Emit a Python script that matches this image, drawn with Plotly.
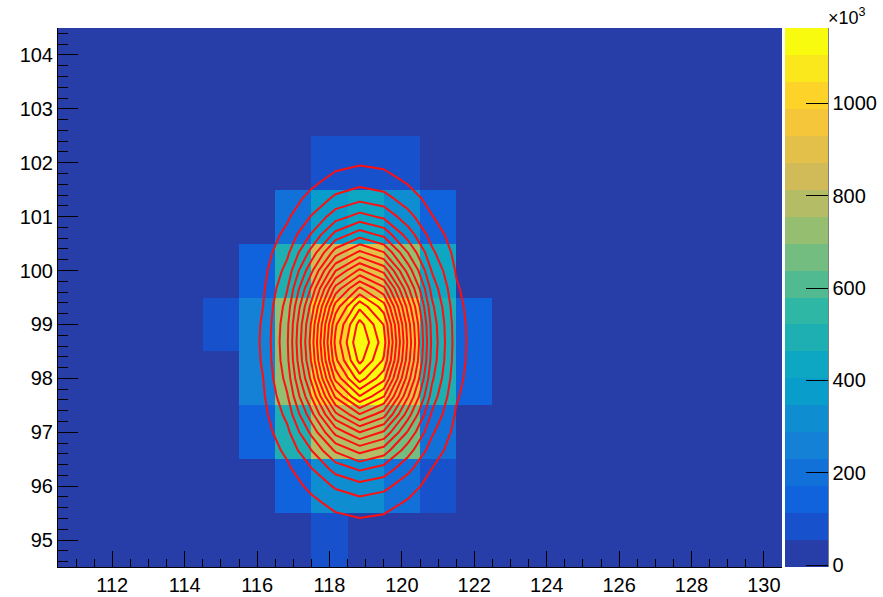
import numpy as np
import plotly.graph_objects as go

# ---------------- data ----------------
x_centers = list(range(111, 131))          # bin centres, width 1
y_centers = list(range(95, 105))           # bin centres, width 1
x_ticks = [112, 114, 116, 118, 120, 122, 124, 126, 128, 130]
y_ticks = [95, 96, 97, 98, 99, 100, 101, 102, 103, 104]
cbar_ticks = [0, 200, 400, 600, 800, 1000]  # in units of 10^3

# bin contents in units of 10^3 (rows = y 95..104, cols = x 111..130)
counts_k = [
    [0, 0, 0, 0, 0,   0,   0,   90,   0,    0,   0,   0,   0, 0, 0, 0, 0, 0, 0, 0],  # 95
    [0, 0, 0, 0, 0,   0,   130, 300,  320,  210, 100, 0,   0, 0, 0, 0, 0, 0, 0, 0],  # 96
    [0, 0, 0, 0, 0,   170, 480, 760,  790,  640, 200, 0,   0, 0, 0, 0, 0, 0, 0, 0],  # 97
    [0, 0, 0, 0, 0,   260, 720, 1000, 1150, 900, 470, 140, 0, 0, 0, 0, 0, 0, 0, 0],  # 98
    [0, 0, 0, 0, 110, 230, 740, 1020, 1160, 940, 470, 140, 0, 0, 0, 0, 0, 0, 0, 0],  # 99
    [0, 0, 0, 0, 0,   170, 490, 850,  880,  720, 430, 0,   0, 0, 0, 0, 0, 0, 0, 0],  # 100
    [0, 0, 0, 0, 0,   0,   200, 380,  430,  320, 145, 0,   0, 0, 0, 0, 0, 0, 0, 0],  # 101
    [0, 0, 0, 0, 0,   0,   0,   90,   95,   85,  0,   0,   0, 0, 0, 0, 0, 0, 0, 0],  # 102
    [0] * 20,                                                                          # 103
    [0] * 20,                                                                          # 104
]
z_min_k = -4
z_max_k = 1163

# fitted 2D Gaussian overlay (parameters of the drawn function)
fit_amp = 1163.0
fit_x0 = 118.9
fit_y0 = 98.68
fit_sx = 1.14
fit_sy = 1.33
fit_npx = 30
fit_npy = 30
n_levels = 20

# ---------------- ROOT kBird palette ----------------
stops = [0.0, 0.125, 0.25, 0.375, 0.5, 0.625, 0.75, 0.875, 1.0]
red = [0.2082, 0.0592, 0.0780, 0.0232, 0.1802, 0.5301, 0.8186, 0.9956, 0.9764]
green = [0.1664, 0.3599, 0.5041, 0.6419, 0.7178, 0.7492, 0.7328, 0.7862, 0.9832]
blue = [0.5293, 0.8684, 0.8385, 0.7914, 0.6425, 0.4662, 0.3499, 0.1968, 0.0539]


def bird(p):
    r = np.interp(p, stops, red)
    g = np.interp(p, stops, green)
    b = np.interp(p, stops, blue)
    return "rgb(%d,%d,%d)" % (round(r * 255), round(g * 255), round(b * 255))


band_cols = []
for i in range(n_levels):
    idx = min(int((i + 0.99) * 255 / n_levels), 254)
    band_cols.append(bird(idx / 254))
cscale = []
for i, c in enumerate(band_cols):
    cscale.append([i / n_levels, c])
    cscale.append([(i + 1) / n_levels, c])

# ---------------- function grid ----------------
x_lo, x_hi = x_centers[0] - 0.5, x_centers[-1] + 0.5
y_lo, y_hi = y_centers[0] - 0.5, y_centers[-1] + 0.5
fx = x_lo + (np.arange(fit_npx) + 0.5) * (x_hi - x_lo) / fit_npx
fy = y_lo + (np.arange(fit_npy) + 0.5) * (y_hi - y_lo) / fit_npy
FX, FY = np.meshgrid(fx, fy)
FZ = fit_amp * np.exp(-0.5 * ((FX - fit_x0) / fit_sx) ** 2 - 0.5 * ((FY - fit_y0) / fit_sy) ** 2)
fz_min, fz_max = FZ.min(), FZ.max()
dz = (fz_max - fz_min) / n_levels

font = "Liberation Sans, Arial, Helvetica, sans-serif"
PL, PR, PT, PB = 58, 782, 28, 567
PW, PH = PR - PL, PB - PT

fig = go.Figure()
fig.add_trace(go.Heatmap(
    x=x_centers, y=y_centers, z=counts_k,
    zmin=z_min_k, zmax=z_max_k, colorscale=cscale,
    hoverinfo="skip",
    colorbar=dict(
        x=(785 - PL) / PW, xanchor="left", xpad=0,
        y=0.5, yanchor="middle", ypad=0, len=1, lenmode="fraction",
        thickness=43, thicknessmode="pixels",
        outlinewidth=0,
        tickvals=cbar_ticks, ticktext=[str(t) for t in cbar_ticks],
        ticks="inside", ticklen=22, tickcolor="black", tickwidth=1,
        tickfont=dict(family=font, size=20, color="black"),
    ),
))
fig.add_trace(go.Contour(
    x=fx, y=fy, z=FZ,
    autocontour=False,
    contours=dict(start=fz_min + dz, end=fz_min + dz * (n_levels - 1) + dz * 0.01,
                  size=dz, coloring="none"),
    line=dict(color="rgb(255,15,15)", width=2, smoothing=0),
    showscale=False, hoverinfo="skip",
))

fig.update_layout(
    width=883, height=597,
    margin=dict(l=PL, r=883 - PR, t=PT, b=597 - PB, autoexpand=False),
    paper_bgcolor="white",
    plot_bgcolor=band_cols[0],
    showlegend=False,
    font=dict(family=font, size=20, color="black"),
    xaxis=dict(range=[x_lo, x_hi], tickvals=x_ticks, ticks="inside", ticklen=16,
               tickcolor="black", tickwidth=1, showgrid=False, zeroline=False,
               showline=True, linecolor="black", linewidth=1,
               minor=dict(dtick=0.5, ticks="inside", ticklen=8, tickcolor="black", showgrid=False),
               tickfont=dict(family=font, size=20, color="black")),
    yaxis=dict(range=[y_lo, y_hi], tickvals=y_ticks, ticks="inside", ticklen=20,
               tickcolor="black", tickwidth=1, showgrid=False, zeroline=False,
               showline=True, linecolor="black", linewidth=1,
               minor=dict(dtick=0.2, ticks="inside", ticklen=10, tickcolor="black", showgrid=False),
               tickfont=dict(family=font, size=20, color="black")),
    annotations=[dict(text="\u00d710<sup>3</sup>", xref="paper", yref="paper",
                      x=(826 - PL) / PW, y=(PB - 17) / PH, xanchor="left", yanchor="middle",
                      showarrow=False, font=dict(family=font, size=18, color="black"))],
    shapes=[dict(type="line", xref="paper", yref="paper",
                 x0=(828 - PL) / PW, x1=(828 - PL) / PW, y0=0, y1=1,
                 line=dict(color="black", width=1))],
)

fig.write_html("out.html", config={"displayModeBar": False},
               post_script="document.body.style.margin='0px';document.body.style.overflow='hidden';")
